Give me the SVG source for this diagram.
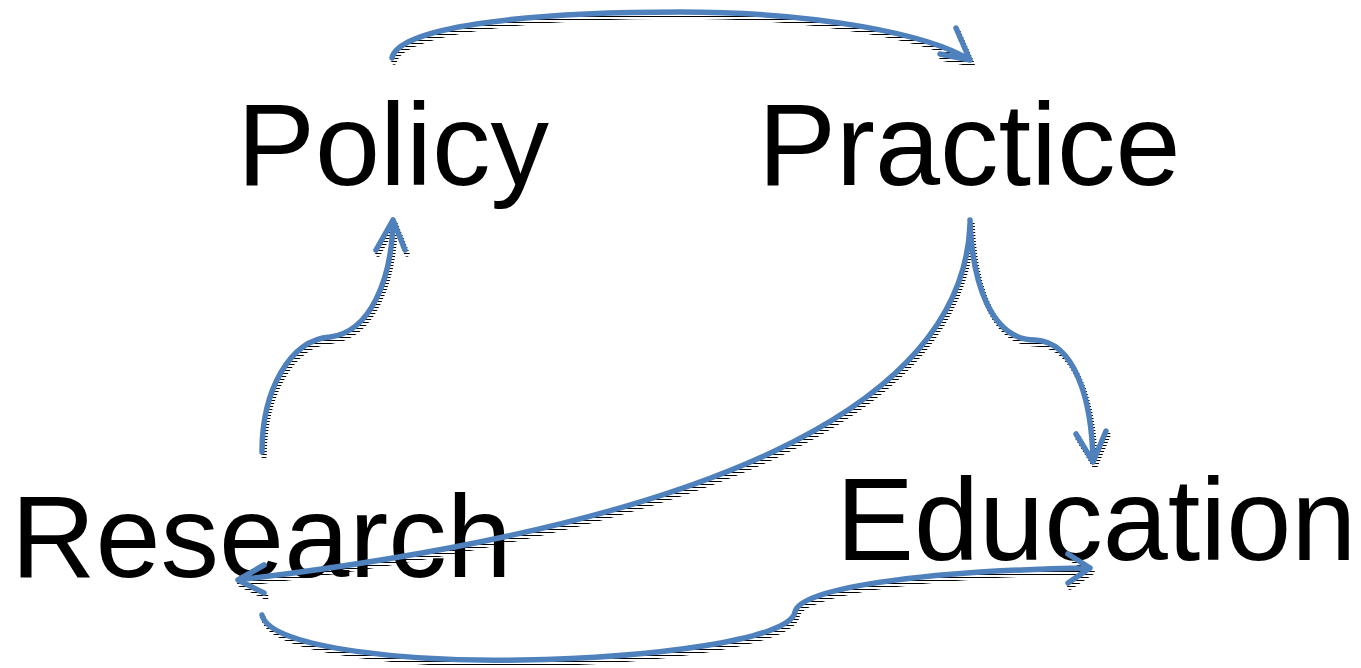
<svg xmlns="http://www.w3.org/2000/svg" width="1361" height="668" viewBox="0 0 1361 668">
<style>
.lbl{font-family:"Liberation Sans",Arial,sans-serif;font-size:117px;fill:#000}
.c{fill:none;stroke:#4F81BD;stroke-width:5.5;stroke-linecap:round;stroke-linejoin:round}
.s{fill:none;stroke:url(#hatch);stroke-width:5.5;stroke-linecap:round;stroke-linejoin:round}
</style>
<defs>
<pattern id="hatch" patternUnits="userSpaceOnUse" width="4" height="3">
<rect x="0" y="0" width="4" height="1" fill="#000"/>
</pattern>
<g id="shapes">
<path id="p1" d="M392,58 C398,28 520,12 680,12 C820,12 930,35 970,60 M956,28 L970,60 L940,54"/>
<path id="p2" d="M262,452 C262,390 290,340 330,337 C370,332 392,280 393,220 M376,250 L393,220 L405,250"/>
<path id="p3" d="M970,220 C972,280 990,340 1035,340 C1075,342 1092,400 1093,462 M1076,434 L1093,462 L1106,431"/>
<path id="p4" d="M970,225 C962,410 700,525 238,580 M264,565 L238,580 L264,593"/>
<path id="p5" d="M262,615 C270,650 420,662 520,660 C650,658 790,640 795,612 C800,585 950,570 1090,568 M1068,554 L1090,568 L1068,583"/>
</g>
</defs>
<g id="policy"><text class="lbl" x="237" y="185">Policy</text></g>
<g id="practice"><text class="lbl" x="758" y="185">Practice</text></g>
<g id="research"><text class="lbl" x="11" y="577">Research</text></g>
<g id="education"><text class="lbl" x="836" y="560">Education</text></g>
<g id="connectors">
<g transform="translate(2,4)" class="s"><use href="#p1"/><use href="#p2"/><use href="#p3"/><use href="#p4"/><use href="#p5"/></g>
<g class="c"><use href="#p1"/><use href="#p2"/><use href="#p3"/><use href="#p4"/><use href="#p5"/></g>
</g>
</svg>
